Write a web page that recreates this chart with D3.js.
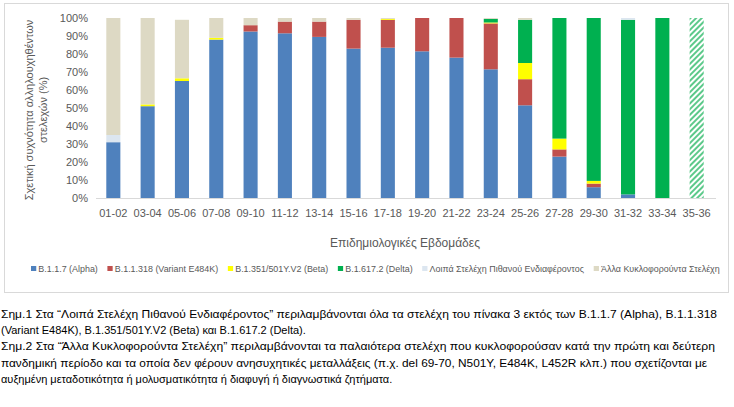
<!DOCTYPE html>
<html><head><meta charset="utf-8">
<script src="https://cdn.jsdelivr.net/npm/d3@7"></script>
<style>body{margin:0;background:#fff;font-family:"Liberation Sans",Arial,sans-serif}</style>
</head><body>
<script>
const weeks = ["01-02","03-04","05-06","07-08","09-10","11-12","13-14","15-16","17-18","19-20","21-22","23-24","25-26","27-28","29-30","31-32","33-34","35-36"];
const alpha  = [31, 51, 65, 88, 92.5, 91.5, 89.5, 83, 83.5, 81.5, 78, 71.5, 51.5, 23, 6, 2, 0, 0];
const e484k  = [0, 0, 0, 0, 3.5, 6.5, 8.5, 16, 15.5, 18.5, 22, 25.5, 14.5, 4, 2, 0, 0, 0];
const beta   = [0, 1, 1.5, 1, 0, 0, 0, 0, 0.5, 0, 0, 0.5, 9, 6, 1.5, 0, 0, 0];
const delta  = [0, 0, 0, 0, 0, 0, 0, 0, 0, 0, 0, 2, 24, 67, 90.5, 97, 100, 100];
const other  = [4, 0, 0, 0, 0, 0, 0, 0, 0, 0, 0, 0, 0, 0, 0, 1, 0, 0];
const old    = [65, 48, 32.5, 11, 4, 2, 2, 1, 0.5, 0, 0, 0.5, 1, 0, 0, 0, 0, 0];
const provisional = ["35-36"];
const seriesNames = ["B.1.1.7 (Alpha)","B.1.1.318 (Variant E484K)","B.1.351/501Y.V2 (Beta)","B.1.617.2 (Delta)","Λοιπά Στελέχη Πιθανού Ενδιαφέροντος","Άλλα Κυκλοφορούντα Στελέχη"];
const colors = ["#4F81BD","#C0504D","#FFFF00","#00B050","#DCE6F0","#DDD9C4"];
const yTicks = d3.range(0, 101, 10);
const notes = [
 "Σημ.1 Στα “Λοιπά Στελέχη Πιθανού Ενδιαφέροντος” περιλαμβάνονται όλα τα στελέχη του πίνακα 3 εκτός των B.1.1.7 (Alpha), B.1.1.318",
 "(Variant E484K), B.1.351/501Y.V2 (Beta) και B.1.617.2 (Delta).",
 "Σημ.2 Στα “Άλλα Κυκλοφορούντα Στελέχη” περιλαμβάνονται τα παλαιότερα στελέχη που κυκλοφορούσαν κατά την πρώτη και δεύτερη",
 "πανδημική περίοδο και τα οποία δεν φέρουν ανησυχητικές μεταλλάξεις (π.χ. del 69-70, N501Y, E484K, L452R κλπ.) που σχετίζονται με",
 "αυξημένη μεταδοτικότητα ή μολυσματικότητα ή διαφυγή ή διαγνωστικά ζητήματα."
];
const noteLen = [716, null, 714, 706, null];

const series = [alpha, e484k, beta, delta, other, old];
const table = weeks.map((w, i) => { const r = {week: w}; seriesNames.forEach((n, k) => r[n] = series[k][i]); return r; });
const stacked = d3.stack().keys(seriesNames)(table);

const width = 734, height = 407;
const svg = d3.select("body").append("svg").attr("width", width).attr("height", height);

const defs = svg.append("defs");
const pat = defs.append("pattern").attr("id", "hatch").attr("patternUnits", "userSpaceOnUse")
  .attr("width", 4).attr("height", 4).attr("patternTransform", "rotate(45)");
pat.append("rect").attr("width", 4).attr("height", 4).attr("fill", "#fff");
pat.append("rect").attr("width", 2).attr("height", 4).attr("fill", "#5CC98A");

svg.append("rect").attr("x", 4.5).attr("y", 3.5).attr("width", 724).attr("height", 289)
  .attr("fill", "none").attr("stroke", "#d9d9d9");

const x = d3.scaleBand().domain(weeks).range([96, 714]).paddingInner(0.59).paddingOuter(0.3);
const y = d3.scaleLinear().domain([0, 100]).range([198, 18]);

svg.append("line").attr("x1", 96).attr("x2", 716).attr("y1", 198.5).attr("y2", 198.5).attr("stroke", "#d9d9d9");

svg.append("g").selectAll("g").data(stacked).join("g")
  .attr("fill", (d, i) => colors[i])
  .selectAll("rect").data(d => d).join("rect")
  .attr("x", d => x(d.data.week)).attr("width", x.bandwidth())
  .attr("y", d => y(d[1])).attr("height", d => y(d[0]) - y(d[1]))
  .attr("fill", function(d) { return provisional.includes(d.data.week) ? "url(#hatch)" : null; });

svg.append("g").selectAll("text").data(yTicks).join("text")
  .attr("x", 88).attr("y", d => y(d) + 4).attr("text-anchor", "end")
  .attr("font-size", 11).attr("fill", "#595959").text(d => d + "%");

svg.append("g").selectAll("text").data(weeks).join("text")
  .attr("x", d => x(d) + x.bandwidth() / 2).attr("y", 217).attr("text-anchor", "middle")
  .attr("font-size", 11).attr("fill", "#595959").text(d => d);

const yt = svg.append("text").attr("transform", "translate(33,110) rotate(-90)")
  .attr("text-anchor", "middle").attr("font-size", 11).attr("fill", "#595959");
yt.append("tspan").attr("x", 0).attr("dy", 0).text("Σχετική συχνότητα αλληλουχηθέντων");
yt.append("tspan").attr("x", 0).attr("dy", 14).text("στελεχών (%)");

svg.append("text").attr("x", 405).attr("y", 247).attr("text-anchor", "middle")
  .attr("font-size", 12).attr("fill", "#595959").text("Επιδημιολογικές Εβδομάδες");

// legend flows left to right, stretched to the reference's span
const leg = svg.append("g");
let lx = 0;
seriesNames.forEach((n, i) => {
  const g = leg.append("g").attr("transform", `translate(${lx},0)`);
  g.append("rect").attr("y", -6).attr("width", 5).attr("height", 5).attr("fill", colors[i]);
  const t = g.append("text").attr("x", 7).attr("y", 0).attr("font-size", 8.5).attr("fill", "#595959").text(n);
  lx += 7 + t.node().getComputedTextLength() + 9;
});
const span = lx - 9;
leg.attr("transform", `translate(31,272) scale(${689 / span},1)`);

svg.append("g").selectAll("text").data(notes).join("text")
  .attr("x", 1).attr("y", (d, i) => 318 + i * 16.2)
  .attr("font-size", 11).attr("fill", "#000")
  .each(function(d, i) { if (noteLen[i]) d3.select(this).attr("textLength", noteLen[i]).attr("lengthAdjust", "spacingAndGlyphs"); })
  .text(d => d);
</script>
</body></html>
